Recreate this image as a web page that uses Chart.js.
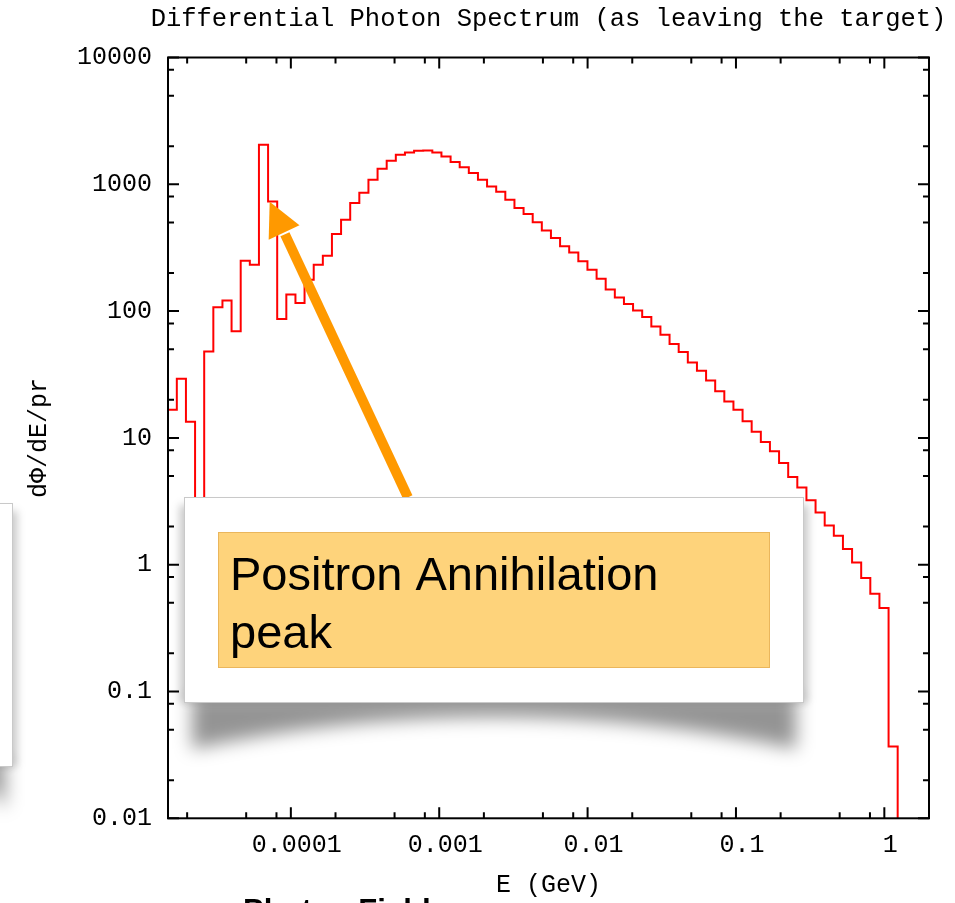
<!DOCTYPE html>
<html>
<head>
<meta charset="utf-8">
<title>Differential Photon Spectrum</title>
<script src="https://cdn.jsdelivr.net/npm/chart.js@4.4.1/dist/chart.umd.min.js"></script>
<style>
  html, body { margin: 0; padding: 0; background: #fff; }
  #wrap { position: relative; width: 955px; height: 903px; overflow: hidden; }
</style>
</head>
<body>
<div id="wrap"><canvas id="spectrum" width="955" height="903"></canvas></div>
<script>
// Histogram bin edges (GeV), log spaced
const binEdges = [
  1.479e-5, 1.704e-5, 1.963e-5, 2.262e-5, 2.606e-5, 3.003e-5, 3.459e-5, 3.985e-5, 4.592e-5, 5.291e-5,
  6.095e-5, 7.023e-5, 8.091e-5, 9.322e-5, 1.074e-4, 1.237e-4, 1.426e-4, 1.643e-4, 1.892e-4, 2.180e-4,
  2.512e-4, 2.894e-4, 3.334e-4, 3.841e-4, 4.426e-4, 5.099e-4, 5.875e-4, 6.769e-4, 7.798e-4, 8.985e-4,
  1.035e-3, 1.193e-3, 1.374e-3, 1.583e-3, 1.824e-3, 2.101e-3, 2.421e-3, 2.789e-3, 3.214e-3, 3.703e-3,
  4.266e-3, 4.915e-3, 5.662e-3, 6.524e-3, 7.516e-3, 8.660e-3, 9.977e-3, 1.150e-2, 1.324e-2, 1.526e-2,
  1.758e-2, 2.025e-2, 2.333e-2, 2.689e-2, 3.097e-2, 3.568e-2, 4.111e-2, 4.737e-2, 5.458e-2, 6.289e-2,
  7.244e-2, 8.346e-2, 9.616e-2, 0.1108, 0.1276, 0.1471, 0.1694, 0.1952, 0.2249, 0.2591,
  0.2985, 0.3439, 0.3963, 0.4566, 0.5260, 0.6061, 0.6982, 0.8044, 0.9268, 1.068,
  1.230
];

// dPhi/dE per primary, one value per bin
const photonFlux = [
  16.7, 29.3, 13.4, 0.5, 48.1, 107, 121, 69.2, 250, 232,
  2050, 733, 86.6, 135, 116, 177, 232, 273, 405, 526,
  712, 859, 1087, 1327, 1535, 1711, 1785, 1841, 1850, 1785,
  1660, 1500, 1360, 1228, 1087, 962, 874, 756, 651, 583,
  501, 433, 377, 324, 290, 247, 212, 180, 148, 128,
  114, 101, 89.8, 75.7, 65.1, 55.0, 47.6, 39.4, 33.9, 28.3,
  23.3, 19.4, 16.7, 13.5, 11.2, 9.30, 7.83, 6.34, 4.92, 4.07,
  3.22, 2.58, 2.04, 1.69, 1.33, 1.04, 0.785, 0.591, 0.456, 0.0369
];

// Axis ticks
const xTickValues = [0.0001, 0.001, 0.01, 0.1, 1];
const xTickLabels = ['0.0001', '0.001', '0.01', '0.1', '1'];
const yTickValues = [0.01, 0.1, 1, 10, 100, 1000, 10000];
const yTickLabels = ['0.01', '0.1', '1', '10', '100', '1000', '10000'];
const xDecades = [1e-5, 1e-4, 1e-3, 1e-2, 1e-1, 1];
const yDecades = [0.01, 0.1, 1, 10, 100, 1000];
const minorSteps = [2, 5, 8];

// Annotation arrow, in data units (E, dPhi/dE)
const arrowTail = { x: 6.15e-4, y: 3.4 };
const arrowHead = { x: 7.2e-5, y: 730 };

const chartTitle = 'Differential Photon Spectrum (as leaving the target)';
const MONO = "'Liberation Mono', 'DejaVu Sans Mono', monospace";
const SANS = "'Liberation Sans', Arial, sans-serif";

// Build histogram points (step at each left edge, then drop after last bin)
const histPoints = photonFlux.map((v, i) => ({ x: binEdges[i], y: v }));
histPoints.push({ x: binEdges[binEdges.length - 1], y: 1e-4 });

function drawFrame(chart) {
    const { ctx, chartArea: a, scales: { x, y } } = chart;
    ctx.save();
    ctx.strokeStyle = '#000';
    ctx.lineWidth = 2;
    ctx.strokeRect(a.left, a.top, a.right - a.left, a.bottom - a.top);

    const tick = (px, len, horiz) => {
        ctx.beginPath();
        if (horiz) {
            ctx.moveTo(px, a.bottom); ctx.lineTo(px, a.bottom - len);
            ctx.moveTo(px, a.top); ctx.lineTo(px, a.top + len);
        } else {
            ctx.moveTo(a.left, px); ctx.lineTo(a.left + len, px);
            ctx.moveTo(a.right, px); ctx.lineTo(a.right - len, px);
        }
        ctx.stroke();
    };

    // ticks point inwards on all four sides
    xTickValues.forEach(v => tick(x.getPixelForValue(v), 11, true));
    xDecades.forEach(d => minorSteps.forEach(m => {
        const v = d * m;
        if (v > x.min && v < x.max) tick(x.getPixelForValue(v), 6, true);
    }));
    yTickValues.forEach(v => tick(y.getPixelForValue(v), 11, false));
    yDecades.forEach(d => minorSteps.forEach(m => {
        const v = d * m;
        if (v > y.min && v < y.max) tick(y.getPixelForValue(v), 6, false);
    }));

    // title, centred over the plot frame
    ctx.fillStyle = '#000';
    ctx.font = '25.5px ' + MONO;
    ctx.textAlign = 'center';
    ctx.textBaseline = 'middle';
    ctx.fillText(chartTitle, (a.left + a.right) / 2, 19);
    ctx.restore();
}

function drawArrow(chart) {
    const { ctx, scales: { x, y } } = chart;
    const tx = x.getPixelForValue(arrowTail.x), ty = y.getPixelForValue(arrowTail.y);
    const hx = x.getPixelForValue(arrowHead.x), hy = y.getPixelForValue(arrowHead.y);
    const len = Math.hypot(tx - hx, ty - hy);
    const ux = (tx - hx) / len, uy = (ty - hy) / len;
    const bx = hx + ux * 34, by = hy + uy * 34;

    ctx.save();
    ctx.strokeStyle = '#ff9900';
    ctx.fillStyle = '#ff9900';
    ctx.lineWidth = 10;
    ctx.beginPath();
    ctx.moveTo(tx, ty);
    ctx.lineTo(bx + ux * 2, by + uy * 2);
    ctx.stroke();
    ctx.beginPath();
    ctx.moveTo(hx, hy);
    ctx.lineTo(bx - uy * 17, by + ux * 17);
    ctx.lineTo(bx + uy * 17, by - ux * 17);
    ctx.closePath();
    ctx.fill();
    ctx.restore();
}

// white "card" with a lifted, curved shadow
function drawCard(ctx, b, depth, sag) {
    const bottom = b.y + b.h;
    ctx.save();
    ctx.filter = 'blur(9px)';
    ctx.fillStyle = 'rgba(0,0,0,0.42)';
    ctx.beginPath();
    ctx.moveTo(b.x + 8, bottom - 8);
    ctx.lineTo(b.x + b.w - 8, bottom - 8);
    ctx.lineTo(b.x + b.w - 8, bottom + depth);
    ctx.quadraticCurveTo(b.x + b.w / 2, bottom - sag, b.x + 8, bottom + depth);
    ctx.closePath();
    ctx.fill();
    ctx.filter = 'blur(4px)';
    ctx.fillStyle = 'rgba(0,0,0,0.22)';
    ctx.fillRect(b.x - 4, b.y + 8, b.w + 8, b.h - 8);
    ctx.restore();

    ctx.save();
    ctx.fillStyle = '#fff';
    ctx.fillRect(b.x, b.y, b.w, b.h);
    ctx.strokeStyle = '#c9c9c9';
    ctx.lineWidth = 1;
    ctx.strokeRect(b.x + 0.5, b.y + 0.5, b.w - 1, b.h - 1);
    ctx.restore();
}

const notesPlugin = {
    id: 'notes',
    afterDraw(chart) {
        const ctx = chart.ctx;
        drawFrame(chart);
        drawArrow(chart);

        // partial card at the left edge
        drawCard(ctx, { x: -80, y: 503, w: 93, h: 264 }, 42, 16);
        // main callout card
        drawCard(ctx, { x: 184, y: 497, w: 620, h: 206 }, 46, 18);

        ctx.save();
        ctx.fillStyle = '#fed37b';
        ctx.fillRect(218, 532, 552, 136);
        ctx.strokeStyle = 'rgba(225,170,80,0.7)';
        ctx.lineWidth = 1;
        ctx.strokeRect(218.5, 532.5, 551, 135);
        ctx.fillStyle = '#000';
        ctx.font = '47px ' + SANS;
        ctx.textBaseline = 'alphabetic';
        ctx.fillText('Positron Annihilation', 230, 590);
        ctx.fillText('peak', 230, 648);

        ctx.font = 'bold 31px ' + SANS;
        ctx.fillText('Photon Field', 243, 921);
        ctx.restore();
    }
};

const ctx = document.getElementById('spectrum').getContext('2d');
new Chart(ctx, {
    type: 'line',
    data: {
        datasets: [{
            label: 'dPhi/dE',
            data: histPoints,
            stepped: 'before',
            borderColor: '#ff0000',
            borderWidth: 2,
            pointRadius: 0,
            fill: false,
            tension: 0
        }]
    },
    options: {
        responsive: false,
        animation: false,
        devicePixelRatio: 1,
        events: [],
        layout: { padding: { left: 0, right: 26, top: 57.5, bottom: 0 } },
        plugins: {
            legend: { display: false },
            tooltip: { enabled: false },
            title: { display: false }
        },
        scales: {
            x: {
                type: 'logarithmic',
                position: 'bottom',
                min: 1.486e-5,
                max: 2.0,
                bounds: 'data',
                grid: { display: false, drawTicks: false },
                border: { display: false },
                afterBuildTicks: (s) => { s.ticks = xTickValues.map(v => ({ value: v })); },
                afterFit: (s) => { s.height = 84.7; },
                ticks: {
                    autoSkip: false,
                    maxRotation: 0,
                    padding: 12,
                    labelOffset: 6,
                    color: '#000',
                    font: { family: MONO, size: 25 },
                    callback: (v, i) => xTickLabels[i]
                },
                title: {
                    display: true,
                    text: 'E (GeV)',
                    color: '#000',
                    font: { family: MONO, size: 25 },
                    padding: { top: 0, bottom: 3 }
                }
            },
            y: {
                type: 'logarithmic',
                min: 0.01,
                max: 10000,
                bounds: 'data',
                grid: { display: false, drawTicks: false },
                border: { display: false },
                afterBuildTicks: (s) => { s.ticks = yTickValues.map(v => ({ value: v })); },
                afterFit: (s) => { s.width = 168; },
                ticks: {
                    autoSkip: false,
                    padding: 16,
                    color: '#000',
                    font: { family: MONO, size: 25 },
                    callback: (v, i) => yTickLabels[i]
                },
                title: {
                    display: true,
                    text: 'dΦ/dE/pr',
                    color: '#000',
                    font: { family: MONO, size: 25 },
                    padding: { top: 24, bottom: 0 }
                }
            }
        }
    },
    plugins: [notesPlugin]
});
</script>
</body>
</html>
